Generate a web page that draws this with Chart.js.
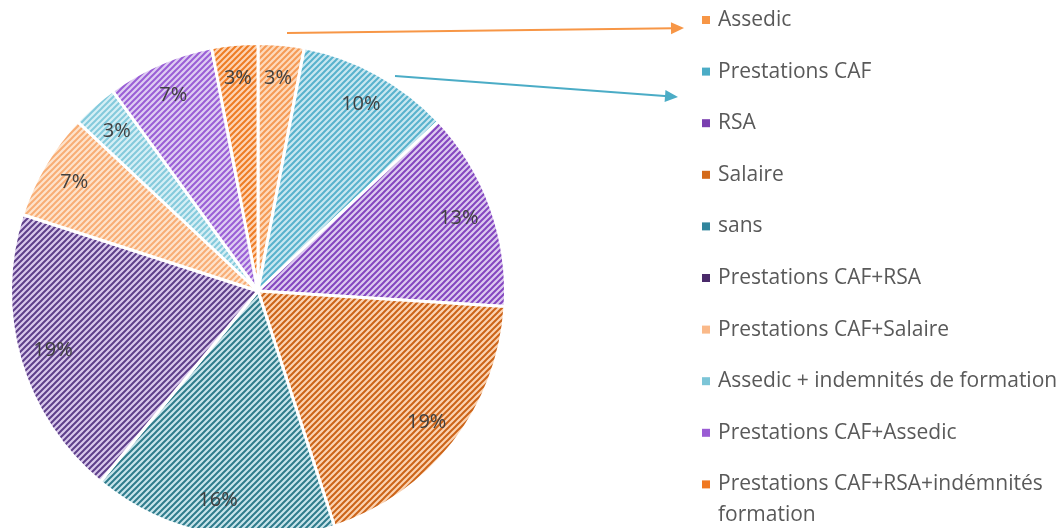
<!DOCTYPE html>
<html>
<head>
<meta charset="utf-8">
<script src="https://cdn.jsdelivr.net/npm/chart.js@4"></script>
<style>
  html, body { margin: 0; padding: 0; background: #fff; }
  #wrap { width: 1057px; height: 528px; overflow: hidden; position: relative; }
  #myChart { display: block; }
</style>
</head>
<body>
<div id="wrap"><canvas id="myChart" width="1057" height="560"></canvas></div>
<script>
// data (percent of people per income source)
const labels = [
  "Assedic",
  "Prestations CAF",
  "RSA",
  "Salaire",
  "sans",
  "Prestations CAF+RSA",
  "Prestations CAF+Salaire",
  "Assedic + indemnités de formation",
  "Prestations CAF+Assedic",
  "Prestations CAF+RSA+indémnités formation",
];
const values = [3, 10, 13, 19, 16, 19, 7, 3, 7, 3];

// colors: light background, darker stripe, legend marker
const bgColors = ["#fddabd", "#c9e7f0", "#dccaef", "#fbd3b2", "#c9e5eb", "#d9c9ec", "#fde3cc", "#d6eff5", "#decdf2", "#fdd4b4"];
const stripeColors = ["#f59a55", "#58b2cd", "#8446c0", "#cc6418", "#2f7c8c", "#5e3f8a", "#f8ad75", "#84cadc", "#9a5ed6", "#ee7c24"];
const markerColors = ["#f79646", "#4bacc6", "#7a3fb0", "#d46a1a", "#31859c", "#4a2a6a", "#fab989", "#7cc5d7", "#9a5cd4", "#f07820"];

// hatched fill like the office "wide upward diagonal"
const makePattern = (bg, fg) => {
  const c = document.createElement("canvas");
  c.width = 6;
  c.height = 6;
  const g = c.getContext("2d");
  g.fillStyle = bg;
  g.fillRect(0, 0, 6, 6);
  g.strokeStyle = fg;
  g.lineWidth = 2;
  g.beginPath();
  for (let k = -1; k <= 1; k++) {
    g.moveTo(-1 + k * 6, 7);
    g.lineTo(7 + k * 6, -1);
  }
  g.stroke();
  return g.createPattern(c, "repeat");
};

const ctx = document.getElementById("myChart");
const patterns = bgColors.map((b, i) => makePattern(b, stripeColors[i]));

// percent labels near the outer edge
const sliceLabels = {
  id: "sliceLabels",
  afterDatasetsDraw(chart) {
    const g = chart.ctx;
    const arcs = chart.getDatasetMeta(0).data;
    g.save();
    g.font = "20px 'Open Sans'";
    g.fillStyle = "#404040";
    g.textAlign = "center";
    g.textBaseline = "middle";
    arcs.forEach((a, i) => {
      const p = a.getProps(["x", "y", "startAngle", "endAngle", "outerRadius"], true);
      const mid = (p.startAngle + p.endAngle) / 2;
      const r = p.outerRadius - 34;
      g.fillText(values[i] + "%", p.x + Math.cos(mid) * r, p.y + Math.sin(mid) * r);
    });
    g.restore();
  },
};

// legend on the right plus the two arrows
const sideLegend = {
  id: "sideLegend",
  afterDraw(chart) {
    const g = chart.ctx;
    g.save();
    g.font = "21px 'Open Sans'";
    g.textBaseline = "middle";
    labels.forEach((lab, i) => {
      const y = 20 + i * 51.6;
      g.fillStyle = markerColors[i];
      g.fillRect(702, y - 4, 8, 8);
      g.fillStyle = "#595959";
      if (i === labels.length - 1) {
        g.fillText("Prestations CAF+RSA+indémnités", 718, y);
        g.fillText("formation", 718, y + 31);
      } else {
        g.fillText(lab, 718, y);
      }
    });

    const arrow = (x1, y1, x2, y2, col) => {
      const ang = Math.atan2(y2 - y1, x2 - x1);
      g.strokeStyle = col;
      g.fillStyle = col;
      g.lineWidth = 2;
      g.beginPath();
      g.moveTo(x1, y1);
      g.lineTo(x2 - Math.cos(ang) * 10, y2 - Math.sin(ang) * 10);
      g.stroke();
      g.beginPath();
      g.moveTo(x2, y2);
      g.lineTo(x2 - Math.cos(ang) * 13 - Math.sin(ang) * 6, y2 - Math.sin(ang) * 13 + Math.cos(ang) * 6);
      g.lineTo(x2 - Math.cos(ang) * 13 + Math.sin(ang) * 6, y2 - Math.sin(ang) * 13 - Math.cos(ang) * 6);
      g.closePath();
      g.fill();
    };
    arrow(287, 33, 684, 28, "#f79646");
    arrow(395, 76, 678, 97, "#4bacc6");
    g.restore();
  },
};

const myChart = new Chart(ctx, {
  type: "pie",
  data: {
    labels: labels,
    datasets: [
      {
        data: values,
        backgroundColor: patterns,
        borderColor: "#ffffff",
        borderWidth: 3,
      },
    ],
  },
  options: {
    responsive: false,
    animation: false,
    devicePixelRatio: 1,
    layout: { padding: { left: 9, top: 42, right: 550, bottom: 20 } },
    plugins: {
      legend: { display: false },
      tooltip: { enabled: false },
    },
  },
  plugins: [sliceLabels, sideLegend],
});
</script>
</body>
</html>
